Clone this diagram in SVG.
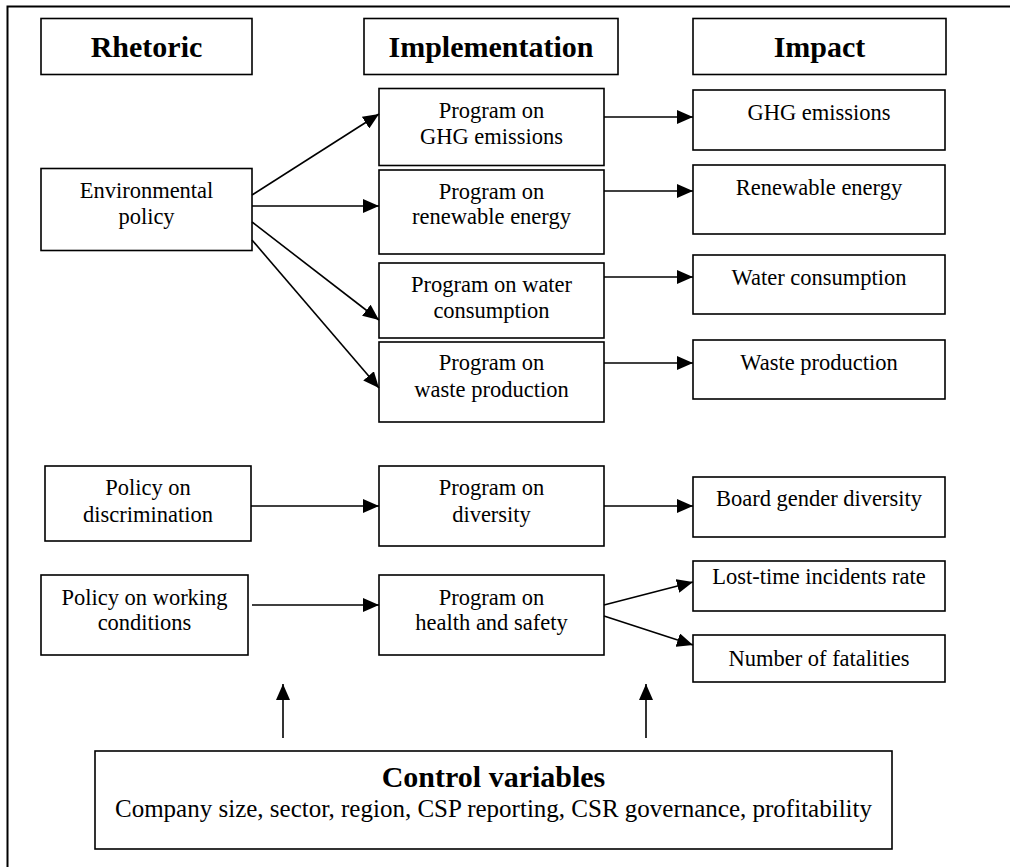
<svg xmlns="http://www.w3.org/2000/svg" width="1010" height="867" viewBox="0 0 1010 867">
  <defs>
    <style>
      .box { fill: #fff; stroke: #000; stroke-width: 1.6; }
      .frame { fill: none; stroke: #000; stroke-width: 2; }
      .head { font-family: "Liberation Serif", "Times New Roman", serif; font-weight: bold; font-size: 30px; text-anchor: middle; fill: #000; }
      .lbl { font-family: "Liberation Serif", "Times New Roman", serif; font-size: 22.5px; text-anchor: middle; fill: #000; }
      .sub { font-family: "Liberation Serif", "Times New Roman", serif; font-size: 25px; text-anchor: middle; fill: #000; }
      .conn { fill: none; stroke: #000; stroke-width: 1.6; marker-end: url(#arrow); }
    </style>
    <marker id="arrow" markerUnits="userSpaceOnUse" markerWidth="16" markerHeight="14" refX="16" refY="7" orient="auto">
      <path d="M0,0 L16,7 L0,14 Z" fill="#000"/>
    </marker>
  </defs>
  <rect width="1010" height="867" fill="#fff"/>

  <!-- outer frame (top and left edges) -->
  <path class="frame" d="M7.5,867 V6.5 H1010"/>

  <!-- column headers -->
  <g id="hdr-rhetoric">
    <rect class="box" x="41" y="18.5" width="211" height="56"/>
    <text class="head" x="146.5" y="57">Rhetoric</text>
  </g>
  <g id="hdr-implementation">
    <rect class="box" x="364" y="18.5" width="254" height="56"/>
    <text class="head" x="491" y="57">Implementation</text>
  </g>
  <g id="hdr-impact">
    <rect class="box" x="693" y="18.5" width="253" height="56"/>
    <text class="head" x="819.5" y="57">Impact</text>
  </g>

  <!-- rhetoric column -->
  <g id="env-policy">
    <rect class="box" x="41" y="168.5" width="211" height="82"/>
    <text class="lbl" x="146.5" y="198">Environmental</text>
    <text class="lbl" x="146.5" y="224">policy</text>
  </g>
  <g id="policy-discrimination">
    <rect class="box" x="45" y="466" width="206" height="75"/>
    <text class="lbl" x="148" y="495">Policy on</text>
    <text class="lbl" x="148" y="522">discrimination</text>
  </g>
  <g id="policy-working">
    <rect class="box" x="41" y="575" width="207" height="80"/>
    <text class="lbl" x="144.5" y="605">Policy on working</text>
    <text class="lbl" x="144.5" y="630">conditions</text>
  </g>

  <!-- implementation column -->
  <g id="prog-ghg">
    <rect class="box" x="379" y="88.5" width="225" height="77"/>
    <text class="lbl" x="491.5" y="118">Program on</text>
    <text class="lbl" x="491.5" y="144">GHG emissions</text>
  </g>
  <g id="prog-renewable">
    <rect class="box" x="379" y="170" width="225" height="84"/>
    <text class="lbl" x="491.5" y="199">Program on</text>
    <text class="lbl" x="491.5" y="224">renewable energy</text>
  </g>
  <g id="prog-water">
    <rect class="box" x="379" y="263" width="225" height="75"/>
    <text class="lbl" x="491.5" y="292">Program on water</text>
    <text class="lbl" x="491.5" y="318">consumption</text>
  </g>
  <g id="prog-waste">
    <rect class="box" x="379" y="342" width="225" height="80"/>
    <text class="lbl" x="491.5" y="370">Program on</text>
    <text class="lbl" x="491.5" y="397">waste production</text>
  </g>
  <g id="prog-diversity">
    <rect class="box" x="379" y="466" width="225" height="80"/>
    <text class="lbl" x="491.5" y="495">Program on</text>
    <text class="lbl" x="491.5" y="522">diversity</text>
  </g>
  <g id="prog-health">
    <rect class="box" x="379" y="575" width="225" height="80"/>
    <text class="lbl" x="491.5" y="605">Program on</text>
    <text class="lbl" x="491.5" y="630">health and safety</text>
  </g>

  <!-- impact column -->
  <g id="imp-ghg">
    <rect class="box" x="693" y="90" width="252" height="60"/>
    <text class="lbl" x="819" y="120">GHG emissions</text>
  </g>
  <g id="imp-renewable">
    <rect class="box" x="693" y="165" width="252" height="69"/>
    <text class="lbl" x="819" y="195">Renewable energy</text>
  </g>
  <g id="imp-water">
    <rect class="box" x="693" y="255" width="252" height="59"/>
    <text class="lbl" x="819" y="285">Water consumption</text>
  </g>
  <g id="imp-waste">
    <rect class="box" x="693" y="340" width="252" height="59"/>
    <text class="lbl" x="819" y="370">Waste production</text>
  </g>
  <g id="imp-board">
    <rect class="box" x="693" y="477" width="252" height="60"/>
    <text class="lbl" x="819" y="506">Board gender diversity</text>
  </g>
  <g id="imp-lost-time">
    <rect class="box" x="693" y="561" width="252" height="50"/>
    <text class="lbl" x="819" y="584">Lost-time incidents rate</text>
  </g>
  <g id="imp-fatalities">
    <rect class="box" x="693" y="635" width="252" height="47"/>
    <text class="lbl" x="819" y="666">Number of fatalities</text>
  </g>

  <!-- control variables -->
  <g id="controls">
    <rect class="box" x="95" y="751" width="797" height="98"/>
    <text class="head" x="493.5" y="787">Control variables</text>
    <text class="sub" x="493.5" y="817">Company size, sector, region, CSP reporting, CSR governance, profitability</text>
  </g>

  <!-- connectors -->
  <g id="connectors">
    <line class="conn" x1="252" y1="195" x2="379" y2="114"/>
    <line class="conn" x1="252" y1="206" x2="379" y2="206"/>
    <line class="conn" x1="252" y1="222" x2="379" y2="320"/>
    <line class="conn" x1="252" y1="240" x2="379" y2="388"/>
    <line class="conn" x1="604" y1="117" x2="693" y2="117"/>
    <line class="conn" x1="604" y1="191" x2="693" y2="191"/>
    <line class="conn" x1="604" y1="277" x2="693" y2="277"/>
    <line class="conn" x1="604" y1="363" x2="693" y2="363"/>
    <line class="conn" x1="251" y1="506" x2="379" y2="506"/>
    <line class="conn" x1="604" y1="506" x2="693" y2="506"/>
    <line class="conn" x1="252" y1="605" x2="379" y2="605"/>
    <line class="conn" x1="604" y1="605" x2="693" y2="582"/>
    <line class="conn" x1="604" y1="616" x2="693" y2="645"/>
    <line class="conn" x1="283" y1="738" x2="283" y2="684"/>
    <line class="conn" x1="646" y1="738" x2="646" y2="684"/>
  </g>
</svg>
